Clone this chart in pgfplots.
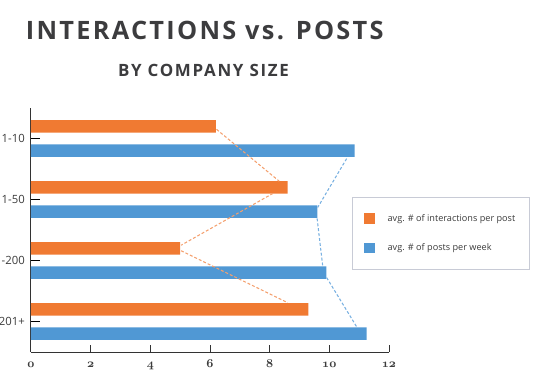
\documentclass[border=0pt]{standalone}
\usepackage{pgfplots}
\pgfplotsset{compat=1.18}
\usepackage{fontspec}
\setmainfont{Open Sans}
\newfontfamily\titlefont{Open Sans}[LetterSpace=9]
\newfontfamily\subtitlefont{Open Sans}[LetterSpace=10]
\definecolor{obar}{RGB}{240,122,50}
\definecolor{bbar}{RGB}{80,152,212}
\definecolor{odash}{RGB}{244,160,110}
\definecolor{bdash}{RGB}{120,176,225}
\definecolor{titlegray}{RGB}{60,60,62}
\definecolor{txtgray}{RGB}{60,60,60}
\definecolor{lgdraw}{RGB}{200,203,214}
\newcommand\osn[1]{{\usefont{OML}{cmm}{b}{it}#1}}
\begin{document}
\begin{tikzpicture}
\path[use as bounding box, clip] (-23.25pt,-25.5pt) rectangle (383.25pt,264pt);
\begin{axis}[
  scale only axis,
  width=268.5pt, height=183pt,
  xmin=0, xmax=12, ymin=-0.5, ymax=3.5,
  y dir=reverse,
  axis lines=left,
  axis line style={-, draw=black!80, line width=0.75pt},
  xtick={0,2,4,6,8,10,12},
  xticklabels={\osn{0},\osn{2},\osn{4},\osn{6},\osn{8},\osn{10},\osn{12}},
  ytick={0,1,2,3},
  yticklabels={1-10,11-50,51-200,201+},
  tick align=inside,
  xtick style={draw=black!80, line width=0.75pt, /pgfplots/major tick length=5.25pt},
  ytick style={draw=black, line width=0.75pt, /pgfplots/major tick length=6.75pt},
  xticklabel style={font=\fontsize{9}{10}\selectfont, text=txtgray, anchor=base, yshift=-11.25pt},
  yticklabel style={font=\fontsize{8.5}{10}\selectfont, text=txtgray, inner xsep=0pt, xshift=-4.5pt},
  legend style={at={(0.897,0.635)}, anchor=north west, draw=lgdraw, line width=0.8pt,
    font=\fontsize{6.85}{8}\selectfont, text=txtgray, inner xsep=8.5pt, inner ysep=10.5pt, row sep=11.2pt,
    cells={anchor=west}},
  legend image code/.code={\fill[#1] (0pt,-4.1pt) rectangle (8.25pt,4.1pt);},
  clip=false,
]
\addplot[xbar, bar width=9.4pt, bar shift=0pt, fill=obar, draw=none]
  coordinates {(6.2,-0.2) (8.6,0.8) (5.0,1.8) (9.3,2.8)};
\addlegendentry{\hspace{7.5pt}avg. \# of interactions per post}
\addplot[xbar, bar width=9.4pt, bar shift=0pt, fill=bbar, draw=none]
  coordinates {(10.85,0.2) (9.6,1.2) (9.9,2.2) (11.25,3.2)};
\addlegendentry{\hspace{7.5pt}avg. \# of posts per week}
\addplot[forget plot, odash, line width=0.8pt, dash pattern=on 2.2pt off 1.5pt]
  coordinates {(6.22,-0.15) (8.32,0.70)};
\addplot[forget plot, odash, line width=0.8pt, dash pattern=on 2.2pt off 1.5pt]
  coordinates {(8.11,0.90) (5.03,1.75)};
\addplot[forget plot, odash, line width=0.8pt, dash pattern=on 2.2pt off 1.5pt]
  coordinates {(5.03,1.84) (8.6,2.69)};
\addplot[forget plot, bdash, line width=0.8pt, dash pattern=on 2.2pt off 1.5pt]
  coordinates {(10.58,0.33) (9.61,1.13)};
\addplot[forget plot, bdash, line width=0.8pt, dash pattern=on 2.2pt off 1.5pt]
  coordinates {(9.59,1.31) (9.78,2.10)};
\addplot[forget plot, bdash, line width=0.8pt, dash pattern=on 2.2pt off 1.5pt]
  coordinates {(9.91,2.28) (10.92,3.09)};
\end{axis}
\node[anchor=base, text=titlegray, inner sep=0pt] at (130.3pt,234pt)
  {\titlefont\bfseries\fontsize{19}{21}\selectfont INTERACTIONS vs. POSTS};
\node[anchor=base, text=titlegray, inner sep=0pt] at (129.4pt,206.5pt)
  {\subtitlefont\bfseries\fontsize{12.7}{14}\selectfont BY COMPANY SIZE};
\end{tikzpicture}
\end{document}
